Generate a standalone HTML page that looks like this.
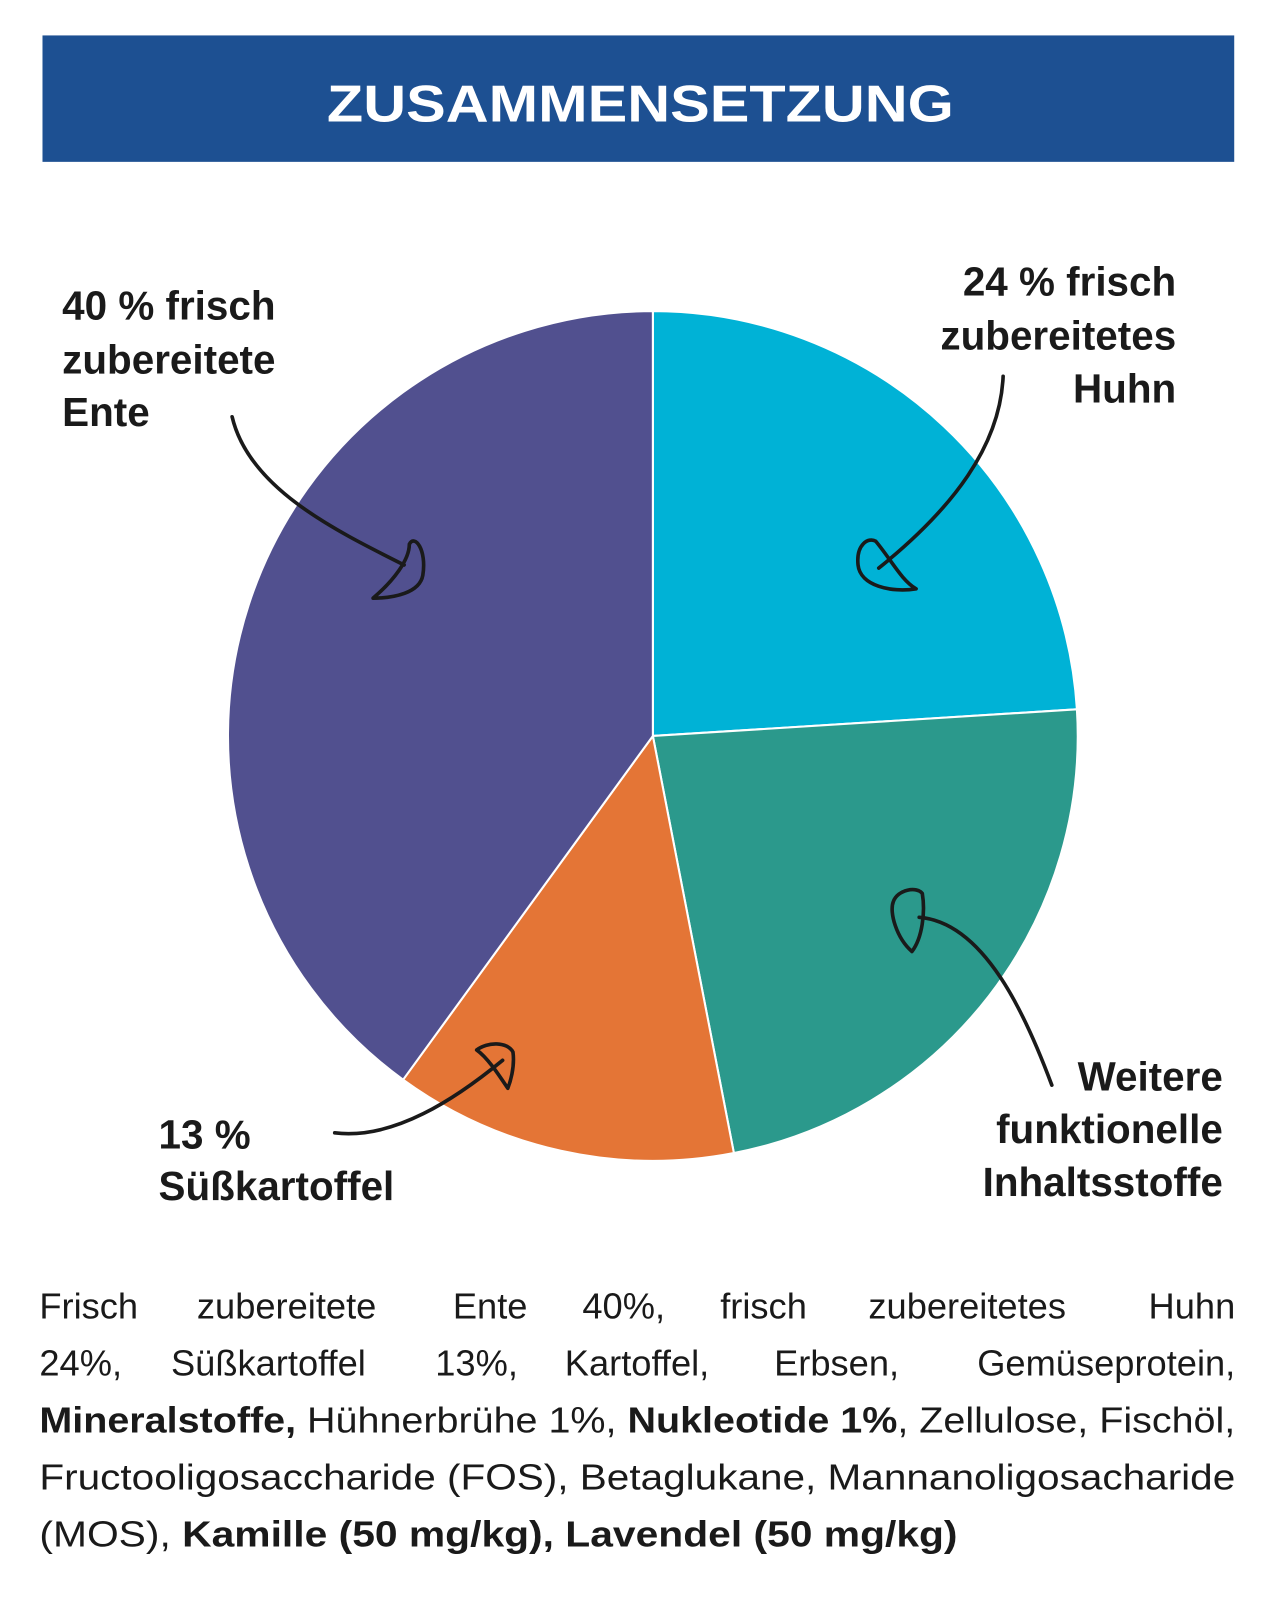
<!DOCTYPE html>
<html><head><meta charset="utf-8"><style>html,body{margin:0;padding:0;background:#fff}svg{display:block}</style></head><body>
<svg width="1285" height="1617" viewBox="0 0 1240 1560" xmlns="http://www.w3.org/2000/svg" font-family="Liberation Sans, sans-serif">
<rect x="41" y="34" width="1150" height="122" fill="#1d5092"/>
<text x="618" y="117" fill="#fff" font-size="50" font-weight="bold" text-anchor="middle" textLength="605" lengthAdjust="spacingAndGlyphs">ZUSAMMENSETZUNG</text>
<g stroke="#fff" stroke-width="2" stroke-linejoin="round">
<path d="M630,710 L630,300 A410,410 0 0 1 1039.2,684.3 Z" fill="#00b2d6"/>
<path d="M630,710 L1039.2,684.3 A410,410 0 0 1 708.2,1112.5 Z" fill="#2b998c"/>
<path d="M630,710 L708.2,1112.5 A410,410 0 0 1 389,1041.7 Z" fill="#e47536"/>
<path d="M630,710 L389,1041.7 A410,410 0 0 1 630,300 Z" fill="#51508f"/>
</g>
<g fill="none" stroke="#1a1a1a" stroke-width="3.5" stroke-linecap="round" stroke-linejoin="round">
<path d="M224,402 C240,470 320,510 390,545"/>
<path d="M360,577 C380,560 395,540 395,525 C400,515 412,530 408,555 C405,572 380,577 360,577 Z"/>
<path d="M968,363 C965,430 920,490 848,548"/>
<path d="M884,568 C860,572 830,565 828,545 C826,525 838,518 845,522 C860,540 870,560 884,568 Z"/>
<path d="M1015,1047 C990,980 950,890 887,885"/>
<path d="M880,918 C865,905 858,880 862,870 C866,858 885,855 890,862 C893,880 890,905 880,918 Z"/>
<path d="M323,1093 C380,1100 440,1060 485,1023"/>
<path d="M460,1013 C470,1005 490,1005 495,1015 C497,1030 492,1045 490,1050 C480,1035 470,1020 460,1013 Z"/>
</g>
<g font-size="39" font-weight="bold" fill="#1a1a1a">
<text x="60" y="308">40 % frisch</text>
<text x="60" y="360">zubereitete</text>
<text x="60" y="411">Ente</text>
<text x="1135" y="285" text-anchor="end">24 % frisch</text>
<text x="1135" y="337" text-anchor="end">zubereitetes</text>
<text x="1135" y="388" text-anchor="end">Huhn</text>
<text x="153" y="1108">13 %</text>
<text x="153" y="1158">Süßkartoffel</text>
<text x="1180" y="1052" text-anchor="end">Weitere</text>
<text x="1180" y="1103" text-anchor="end">funktionelle</text>
<text x="1180" y="1154" text-anchor="end">Inhaltsstoffe</text>
</g>
<g font-size="35" fill="#1a1a1a">
<text x="38" y="1272">Frisch</text>
<text x="190" y="1272">zubereitete</text>
<text x="437" y="1272">Ente</text>
<text x="562" y="1272">40%,</text>
<text x="695" y="1272">frisch</text>
<text x="838" y="1272">zubereitetes</text>
<text x="1192" y="1272" text-anchor="end">Huhn</text>
<text x="38" y="1327">24%,</text>
<text x="165" y="1327">Süßkartoffel</text>
<text x="420" y="1327">13%,</text>
<text x="545" y="1327">Kartoffel,</text>
<text x="747" y="1327">Erbsen,</text>
<text x="1192" y="1327" text-anchor="end">Gemüseprotein,</text>
<text x="38" y="1382" textLength="1154" lengthAdjust="spacingAndGlyphs"><tspan font-weight="bold">Mineralstoffe,</tspan> Hühnerbrühe 1%, <tspan font-weight="bold">Nukleotide 1%</tspan>, Zellulose, Fischöl,</text>
<text x="38" y="1437" textLength="1154" lengthAdjust="spacingAndGlyphs">Fructooligosaccharide (FOS), Betaglukane, Mannanoligosacharide</text>
<text x="38" y="1492" textLength="886" lengthAdjust="spacingAndGlyphs">(MOS), <tspan font-weight="bold">Kamille (50 mg/kg), Lavendel (50 mg/kg)</tspan></text>
</g>
</svg>
</body></html>
